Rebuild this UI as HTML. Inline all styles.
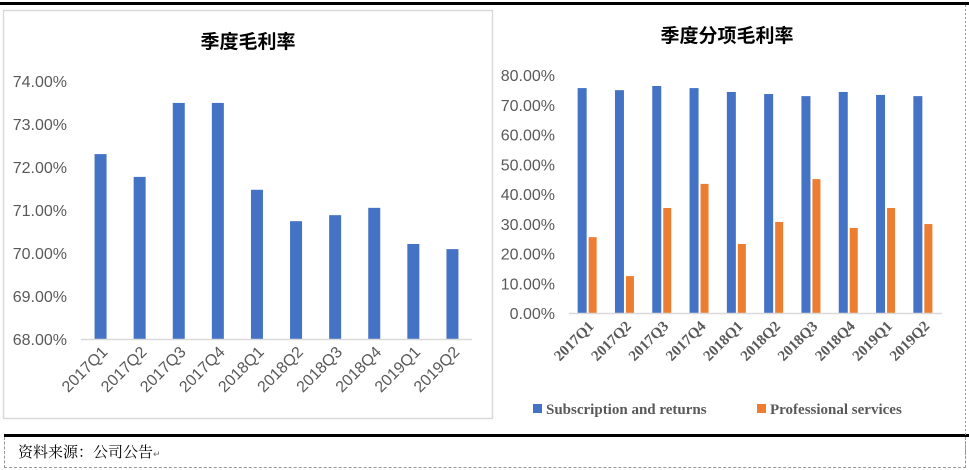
<!DOCTYPE html>
<html><head><meta charset="utf-8">
<style>
body{margin:0;background:#fff;width:969px;height:470px;overflow:hidden;position:relative;font-family:"Liberation Sans","Noto Sans CJK SC",sans-serif}
.abs{position:absolute}
</style></head><body>
<div class="abs" style="left:0;top:2px;width:969px;height:3px;background:#000"></div>
<div class="abs" style="left:4px;top:434px;width:965px;height:3px;background:#000"></div>
<div class="abs" style="left:4px;top:437px;width:960px;height:30px;border-left:1px dashed #999;border-bottom:1px dashed #999;border-right:1px dashed #999"></div>
<div class="abs" style="left:18px;top:441px;font:15px 'Noto Serif CJK SC',serif;color:#000">资料来源：公司公告<span style="font-size:9px;color:#666">↵</span></div>
<svg class="abs" style="left:0;top:0" width="969" height="470">
<rect x="3.5" y="10.5" width="489" height="408" fill="#fff" stroke="#d9d9d9" stroke-width="1.5"/>
<line x1="965.5" y1="5" x2="965.5" y2="466" stroke="#999" stroke-dasharray="2,2"/>
<text x="248" y="48" text-anchor="middle" font-family="'Noto Sans CJK SC',sans-serif" font-weight="bold" font-size="19" fill="#000">季度毛利率</text>
<text x="727" y="42" text-anchor="middle" font-family="'Noto Sans CJK SC',sans-serif" font-weight="bold" font-size="19" fill="#000">季度分项毛利率</text>
<g id="left"></g><g id="right"></g>
<g>
<rect x="533" y="404" width="9" height="9" fill="#4472c4"/>
<text x="546" y="414" font-family="'Liberation Serif',serif" font-weight="bold" font-size="15" fill="#595959">Subscription and returns</text>
<rect x="757" y="404" width="9" height="9" fill="#ed7d31"/>
<text x="770" y="414" font-family="'Liberation Serif',serif" font-weight="bold" font-size="15" fill="#595959">Professional services</text>
</g>
</svg>
<script>
const categories=["2017Q1","2017Q2","2017Q3","2017Q4","2018Q1","2018Q2","2018Q3","2018Q4","2019Q1","2019Q2"];
const totalMargin=[72.30,71.77,73.49,73.49,71.47,70.74,70.88,71.05,70.21,70.09];
const leftTicks=[68,69,70,71,72,73,74];
const subscription=[75.6,74.9,76.3,75.6,74.3,73.6,72.9,74.3,73.3,72.9];
const professional=[25.5,12.4,35.3,43.4,23.2,30.6,45.0,28.6,35.3,29.9];
const rightTicks=[0,10,20,30,40,50,60,70,80];
const NS="http://www.w3.org/2000/svg";
function mk(p,tag,at){const e=document.createElementNS(NS,tag);for(const k in at)e.setAttribute(k,at[k]);p.appendChild(e);return e;}
// left chart
(function(){
const g=document.getElementById('left');
const x0=81,x1=472,y0=339,y1=81,vmin=68,vmax=74;
const y=v=>y0-(v-vmin)/(vmax-vmin)*(y0-y1);
const step=(x1-x0)/categories.length;
leftTicks.forEach(t=>{const e=mk(g,'text',{x:67,y:y(t)+6,'text-anchor':'end','font-size':16,fill:'#595959','font-family':"'Liberation Sans',sans-serif"});e.textContent=t.toFixed(2)+'%';

});
totalMargin.forEach((v,i)=>{const cx=x0+step*(i+0.5);const r=mk(g,'rect',{x:cx-6,y:y(v),width:12,height:y0-y(v),fill:'#4472c4'});


const t=mk(g,'text',{x:cx+8,y:y0+14,'text-anchor':'end','font-size':16,fill:'#595959',transform:`rotate(-45 ${cx+8} ${y0+14})`,'font-family':"'Liberation Sans',sans-serif"});t.textContent=categories[i];

});
const l=mk(g,'line',{x1:x0,x2:x1,y1:y0+0.5,y2:y0+0.5,stroke:'#d9d9d9','stroke-width':1.5});


})();
// right chart
(function(){
const g=document.getElementById('right');
const x0=569,x1=942,y0=313,y1=75,vmin=0,vmax=80;
const y=v=>y0-(v-vmin)/(vmax-vmin)*(y0-y1);
const step=(x1-x0)/categories.length;
rightTicks.forEach(t=>{const e=mk(g,'text',{x:555,y:y(t)+6,'text-anchor':'end','font-size':16,fill:'#595959','font-family':"'Liberation Sans',sans-serif"});e.textContent=t.toFixed(2)+'%';

});
categories.forEach((c,i)=>{const cx=x0+step*(i+0.5);
const a=mk(g,'rect',{x:cx-10,y:y(subscription[i]),width:9,height:y0-y(subscription[i]),fill:'#4472c4'});


const b=mk(g,'rect',{x:cx+1,y:y(professional[i]),width:8,height:y0-y(professional[i]),fill:'#ed7d31'});


const t=mk(g,'text',{x:cx+7,y:y0+14,'text-anchor':'end','font-size':15,'font-weight':'bold',fill:'#595959',transform:`rotate(-45 ${cx+7} ${y0+14})`,'font-family':"'Liberation Serif',serif"});t.textContent=c;

});
const l=mk(g,'line',{x1:x0,x2:x1,y1:y0+0.5,y2:y0+0.5,stroke:'#d9d9d9','stroke-width':1.5});


})();
</script>
</body></html>
